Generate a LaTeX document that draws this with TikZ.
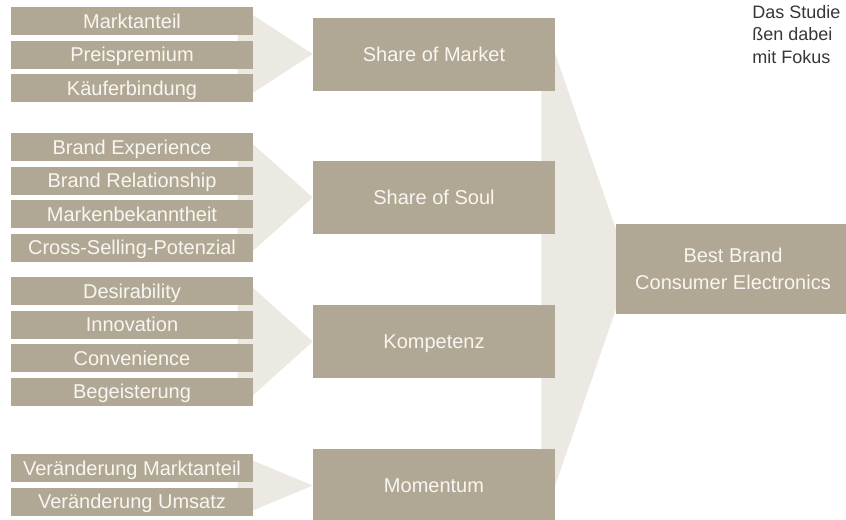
\documentclass[tikz,border=0pt]{standalone}
\usepackage{fontspec}
\setmainfont{Liberation Sans}
\usetikzlibrary{calc,backgrounds}

\definecolor{taupe}{RGB}{176,168,148}
\definecolor{sand}{RGB}{236,233,227}
\definecolor{paper}{RGB}{248,246,241}
\definecolor{ink}{RGB}{55,55,55}

\begin{document}
\begin{tikzpicture}[x=0.75pt,y=-0.75pt,
    item/.style={fill=taupe,text=paper,inner sep=0pt,minimum width=181.5pt,minimum height=21pt,
      text height=10.7pt,text depth=0pt,font=\fontsize{15}{18}\selectfont},
    pillar/.style={item,minimum height=54.75pt},
    goal/.style={fill=taupe,text=paper,inner sep=0pt,minimum width=175.5pt,minimum height=67.5pt,
      align=center,font=\fontsize{15}{20}\selectfont},
    funnel/.style={fill=sand}]
    \useasboundingbox (0,0) rectangle (846,519);
    \clip (0,0) rectangle (846,519);
    % criteria
    \node[item] (mkt) at (132,21) {Marktanteil};
    \node[item] (prs) at (132,54.5) {Preispremium};
    \node[item] (kfb) at (132,88) {Käuferbindung};
    \node[item] (bex) at (132,147) {Brand Experience};
    \node[item] (brl) at (132,180.5) {Brand Relationship};
    \node[item] (mbk) at (132,214) {Markenbekanntheit};
    \node[item] (csp) at (132,247.5) {Cross-Selling-Potenzial};
    \node[item] (des) at (132,291) {Desirability};
    \node[item] (inn) at (132,324.5) {Innovation};
    \node[item] (cnv) at (132,358) {Convenience};
    \node[item] (beg) at (132,391.5) {Begeisterung};
    \node[item] (vma) at (132,468) {Veränderung Marktanteil};
    \node[item] (vum) at (132,501.5) {Veränderung Umsatz};
    % pillars
    \node[pillar] (shm) at (434,54) {Share of Market};
    \node[pillar] (shs) at (434,197.5) {Share of Soul};
    \node[pillar] (kmp) at (434,341.5) {Kompetenz};
    \node[pillar] (mom) at (434,485.5) {Momentum};
    % result
    \node[goal] (best) at (733,269) {Best Brand\\Consumer Electronics};
    % side text
    \node[anchor=north west,inner sep=0pt,align=left,text=ink,font=\fontsize{13.5}{16.9}\selectfont]
      (txt) at (752,5) {Das Studie\\ßen dabei\\mit Fokus};
    % funnels
    \begin{scope}[on background layer]
      \fill[funnel] ($(shm.west)+(-75,-39)$) -- ($(shm.west)+(-60,-39)$) -- (shm.west)
        -- ($(shm.west)+(-60,39)$) -- ($(shm.west)+(-75,39)$) -- cycle;
      \fill[funnel] ($(shs.west)+(-75,-53.5)$) -- ($(shs.west)+(-60,-53.5)$) -- (shs.west)
        -- ($(shs.west)+(-60,53.5)$) -- ($(shs.west)+(-75,53.5)$) -- cycle;
      \fill[funnel] ($(kmp.west)+(-75,-54)$) -- ($(kmp.west)+(-60,-54)$) -- (kmp.west)
        -- ($(kmp.west)+(-60,54)$) -- ($(kmp.west)+(-75,54)$) -- cycle;
      \fill[funnel] ($(mom.west)+(-75,-25)$) -- ($(mom.west)+(-60,-25)$) -- (mom.west)
        -- ($(mom.west)+(-60,25)$) -- ($(mom.west)+(-75,25)$) -- cycle;
      \fill[funnel] ($(shm.east)+(-14,0)$) -- (shm.east) -- ($(best.west)+(14,0)$)
        -- (mom.east) -- ($(mom.east)+(-14,0)$) -- cycle;
    \end{scope}
\end{tikzpicture}
\end{document}
